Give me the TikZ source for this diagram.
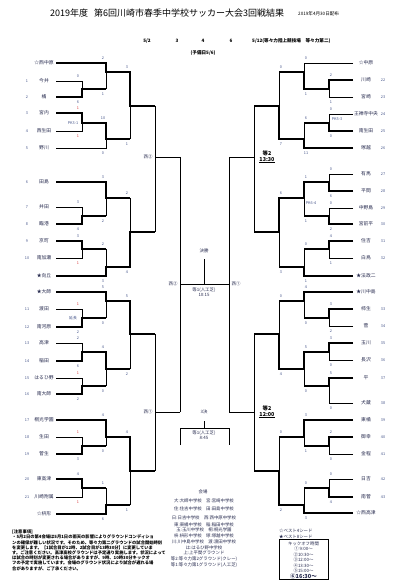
\documentclass[tikz,border=0pt]{standalone}
\usepackage{fontspec}
\setmainfont{Noto Sans CJK JP}
\usetikzlibrary{positioning}
\definecolor{ink}{HTML}{262A4E}
\definecolor{numc}{HTML}{44548A}
\definecolor{lose}{HTML}{D8383A}
\tikzset{
	ln/.style={line width=0.7pt},
	win/.style={line width=1.7pt},
	nm/.style={font=\fontsize{4.8}{5}\selectfont, text=ink, inner sep=0pt},
	no/.style={font=\fontsize{3.8}{4}\selectfont, text=numc, inner sep=0pt},
	sc/.style={font=\fontsize{3.8}{4}\selectfont, text=numc, inner sep=0pt},
	hd/.style={font=\bfseries\fontsize{4.6}{5}\selectfont, inner sep=0pt},
	vn/.style={font=\fontsize{4.4}{5}\selectfont, text=ink, inner sep=0pt},
	qf/.style={font=\bfseries\fontsize{5.4}{5.6}\selectfont, align=center, inner sep=0pt},
	note/.style={font=\bfseries\fontsize{4.3}{5}\selectfont, anchor=west, inner sep=0pt},
}

\begin{document}
\begin{tikzpicture}[x=1pt,y=-1pt]
	\fill[white] (0,0) rectangle (415,585);
	\useasboundingbox (0,0) rectangle (415,585);
	% title and dates
	\node[anchor=west, inner sep=0pt, font=\fontsize{9}{9}\selectfont] (title) at (50,13) {2019年度\hspace{6pt}第6回川崎市春季中学校サッカー大会3回戦結果};
	\node[anchor=west, inner sep=0pt, font=\fontsize{4.6}{5}\selectfont] (date) at (298,13.5) {2019年4月30日配布};
	\node[hd] (d2) at (147,41) {5/2};
	\node[hd] (d3) at (177,41) {3};
	\node[hd] (d4) at (203,41) {4};
	\node[hd] (d6) at (231,41) {6};
	\node[hd, anchor=west] (d12) at (252,41) {5/12(等々力陸上競技場　等々力第二)};
	\node[hd] (yobi) at (203,53) {(予備日5/6)};

	% teams
	\foreach \y/\n/\t in {81/1/今井, 97/2/橘, 113/3/宮内, 131/4/西生田, 148/5/野川, 182/6/田島, 207/7/井田, 224/8/臨港, 241/9/京町, 258/10/南加瀬, 309/11/渡田, 327/12/南河原, 343/13/高津, 361/14/稲田, 378/15/はるひ野, 394/16/南大師, 420/17/桐光学園, 437/18/生田, 454/19/菅生, 479/20/東高津, 497/21/川崎附属}
		{\node[nm] (L\n) at (44,\y) {\t}; \node[no] (LN\n) at (27,\y) {\n};}
	\foreach \y/\n/\t in {80/22/川崎, 97/23/宮崎, 114/24/王禅寺中央, 131/25/南生田, 148/26/塚越, 174/27/有馬, 191/28/平間, 208/29/中野島, 224/30/宮前平, 241/31/住吉, 258/32/白鳥, 309/33/柿生, 326/34/菅, 343/35/玉川, 360/36/長沢, 378/37/平, 403/38/犬蔵, 420/39/東橘, 437/40/御幸, 454/41/金程, 479/42/日吉, 497/43/南菅}
		{\node[nm] (R\n) at (366,\y) {\t}; \node[no] (RN\n) at (383,\y) {\n};}
	\node[nm] (Ls1) at (44,63) {☆西中原};
	\node[nm] (Ls2) at (44,276) {★向丘};
	\node[nm] (Ls3) at (44,292) {★大師};
	\node[nm] (Ls4) at (44,514) {☆枡形};
	\node[nm] (Rs1) at (366,63) {☆中原};
	\node[nm] (Rs2) at (366,276) {★法政二};
	\node[nm] (Rs3) at (366,292) {★川中島};
	\node[nm] (Rs4) at (366,513) {☆西高津};

	% left bracket
	\draw[win] (56,63)--(106,63)--(106,72)--(130,72)--(130,106)--(155,106);
	\draw[ln] (56,81)--(82,81)--(82,89);
	\draw[win] (56,97)--(82,97)--(82,89)--(106,89);
	\draw[ln] (106,89)--(106,72);
	\draw[win] (56,113)--(82,113)--(82,123)--(106,123)--(106,139)--(130,139);
	\draw[ln] (56,131)--(82,131)--(82,123);
	\draw[ln] (56,148)--(106,148)--(106,139);
	\draw[ln] (130,139)--(130,106);
	\draw[win] (56,182)--(106,182)--(106,198)--(130,198);
	\draw[ln] (130,198)--(130,232);
	\draw[ln] (56,207)--(82,207)--(82,216);
	\draw[win] (56,224)--(82,224)--(82,216)--(106,216);
	\draw[ln] (106,216)--(106,198);
	\draw[win] (56,241)--(82,241)--(82,249)--(106,249);
	\draw[ln] (56,258)--(82,258)--(82,249);
	\draw[ln] (106,249)--(106,267);
	\draw[win] (56,276)--(106,276)--(106,267)--(130,267)--(130,232)--(155,232);
	\draw[ln] (155,106)--(155,232);
	\draw[ln] (155,157)--(180,157);
	\draw[win] (56,292)--(106,292)--(106,301)--(130,301)--(130,334)--(155,334);
	\draw[ln] (56,309)--(82,309)--(82,318);
	\draw[win] (56,327)--(82,327)--(82,318)--(106,318);
	\draw[ln] (106,318)--(106,301);
	\draw[ln] (56,343)--(82,343)--(82,352);
	\draw[win] (56,361)--(82,361)--(82,352)--(106,352)--(106,369)--(130,369);
	\draw[ln] (56,378)--(82,378)--(82,386);
	\draw[win] (56,394)--(82,394)--(82,386)--(106,386);
	\draw[ln] (106,386)--(106,369);
	\draw[ln] (130,369)--(130,334);
	\draw[win] (56,420)--(106,420)--(106,437)--(130,437)--(130,471)--(155,471);
	\draw[ln] (56,437)--(82,437)--(82,446);
	\draw[win] (56,454)--(82,454)--(82,446)--(106,446);
	\draw[ln] (106,446)--(106,437);
	\draw[win] (56,479)--(82,479)--(82,488)--(106,488);
	\draw[ln] (56,497)--(82,497)--(82,488);
	\draw[ln] (106,488)--(106,505);
	\draw[win] (56,514)--(106,514)--(106,505)--(130,505);
	\draw[ln] (130,505)--(130,471);
	\draw[ln] (155,334)--(155,471);
	\draw[ln] (155,412)--(180,412);

	% right bracket
	\draw[ln] (353,63)--(304,63)--(304,72);
	\draw[win] (353,80)--(329,80)--(329,89)--(304,89)--(304,72)--(279,72);
	\draw[ln] (353,97)--(329,97)--(329,89);
	\draw[ln] (279,72)--(279,106);
	\draw[ln] (353,114)--(329,114)--(329,123);
	\draw[win] (353,131)--(329,131)--(329,123)--(304,123);
	\draw[ln] (304,123)--(304,139);
	\draw[win] (353,148)--(304,148)--(304,139)--(279,139)--(279,106)--(254,106);
	\draw[ln] (353,174)--(329,174)--(329,182);
	\draw[win] (353,191)--(329,191)--(329,182)--(304,182)--(304,198)--(279,198)--(279,232)--(254,232);
	\draw[ln] (353,208)--(329,208)--(329,216);
	\draw[win] (353,224)--(329,224)--(329,216)--(304,216);
	\draw[ln] (304,216)--(304,198);
	\draw[win] (353,241)--(329,241)--(329,249)--(304,249);
	\draw[ln] (353,258)--(329,258)--(329,249);
	\draw[ln] (304,249)--(304,267);
	\draw[win] (353,276)--(304,276)--(304,267)--(279,267);
	\draw[ln] (279,267)--(279,232);
	\draw[ln] (254,106)--(254,232);
	\draw[ln] (254,157)--(229,157);
	\draw[win] (353,292)--(304,292)--(304,301)--(279,301);
	\draw[ln] (279,301)--(279,334);
	\draw[win] (353,309)--(329,309)--(329,318)--(304,318);
	\draw[ln] (353,326)--(329,326)--(329,318);
	\draw[ln] (304,318)--(304,301);
	\draw[win] (353,343)--(329,343)--(329,352)--(304,352)--(304,369)--(279,369)--(279,334)--(254,334);
	\draw[ln] (353,360)--(329,360)--(329,352);
	\draw[win] (353,378)--(329,378)--(329,386)--(304,386);
	\draw[ln] (353,403)--(329,403)--(329,386);
	\draw[ln] (304,386)--(304,369);
	\draw[win] (353,420)--(304,420)--(304,437)--(279,437);
	\draw[ln] (279,437)--(279,471);
	\draw[win] (353,437)--(329,437)--(329,446)--(304,446);
	\draw[ln] (353,454)--(329,454)--(329,446);
	\draw[ln] (304,446)--(304,437);
	\draw[ln] (353,479)--(329,479)--(329,488);
	\draw[win] (353,497)--(329,497)--(329,488)--(304,488);
	\draw[ln] (304,488)--(304,505);
	\draw[win] (353,513)--(304,513)--(304,505)--(279,505)--(279,471)--(254,471);
	\draw[ln] (254,334)--(254,471);
	\draw[ln] (254,412)--(229,412);

	% scores
	\foreach \x/\a/\b/\p/\q in {78/81/97/0/6, 78/113/131/{\color{lose}1}/{\color{lose}1}, 78/207/224/3/4, 78/241/258/3/{\color{lose}1}, 78/309/327/{\color{lose}1}/2, 78/343/361/2/6, 78/378/394/{\color{lose}1}/2, 78/437/454/{\color{lose}1}/3, 78/479/497/4/{\color{lose}1},
		103/63/89/2/1, 103/123/148/10/0, 103/182/216/3/2, 103/249/276/2/3, 103/292/318/5/0, 103/352/386/4/0, 103/420/446/4/0, 103/488/514/1/6,
		127/72/139/3/1, 127/198/267/2/4, 127/301/369/5/2, 127/437/505/4/1,
		331/80/97/2/1, 331/114/131/0/0, 331/174/191/0/6, 331/208/224/0/2, 331/241/258/4/1, 331/309/326/3/2, 331/343/360/3/0, 331/378/403/5/0, 331/437/454/2/0, 331/479/497/0/4,
		306/63/89/0/1, 306/123/148/6/11, 306/182/216/1/1, 306/249/276/0/1, 306/292/318/4/0, 306/352/386/5/0, 306/420/446/3/1, 306/488/513/0/3,
		281/72/139/0/7, 281/198/267/6/3, 281/301/369/0/4, 281/437/505/0/2}
		{\node[sc] (t\x-\a) at (\x,\a-4.5) {\p}; \node[sc] (b\x-\b) at (\x,\b+5) {\q};}
	\node[sc] (pk1) at (73,123) {PK3-1};
	\node[sc] (ot1) at (73,318) {延長};
	\node[sc] (pk2) at (337,119) {PK5-3};
	\node[sc] (pk3) at (311,203) {PK6-4};

	% semifinals, final, 3rd place
	\node[vn] (w2a) at (148,157) {西②};
	\node[vn] (w1a) at (148,412) {西①};
	\node[qf] (t2a) at (267,157) {等2\\\underline{13:30}};
	\node[qf] (t2b) at (267,412) {等2\\\underline{12:00}};
	\draw[ln] (180,157)--(180,412);
	\draw[ln] (229,157)--(229,412);
	\draw[ln] (180,284)--(229,284);
	\node[vn] (fin) at (204,251) {決勝};
	\draw[ln] (204,284)--(204,259);
	\node[vn] (w2b) at (173,284) {西②};
	\node[vn] (w1b) at (236,284) {西①};
	\node[vn] (fv1) at (204,290) {等1(人工芝)};
	\node[vn, below=0.6pt of fv1] (fv2) {10:15};
	\node[vn] (thd) at (204,412) {3決};
	\draw[ln] (180,445)--(180,428)--(229,428)--(229,445);
	\draw[ln] (204,428)--(204,421);
	\node[vn] (tv1) at (204,433.5) {等1(人工芝)};
	\node[vn, below=0.6pt of tv1] (tv2) {8:45};

	% venues
	\node[vn] (kaijo) at (203,492) {会場};
	\foreach \y/\t in {501/大:大師中学校　宮:宮崎中学校, 509/住:住吉中学校　田:田島中学校, 518/日:日吉中学校　西:西中原中学校, 525/東:東橘中学校　稲:稲田中学校, 529.5/玉:玉川中学校　桐:桐光学園, 536/枡:枡形中学校　塚:塚越中学校, 542/川:川中島中学校　渡:渡田中学校, 548/は:はるひ野中学校, 552.5/上:上平間グラウンド, 559/等2:等々力第2グラウンド(クレー), 565/等1:等々力第1グラウンド(人工芝)}
		{\node[vn] (v\y) at (204,\y) {\t};}

	% notes
	\node[note] (nt0) at (12,532) {[注意事項]};
	\foreach \t [count=\i] in {・5月2日の第4会場は5月1日の雨天の影響によりグラウンドコンディショ, ンの確保が難しい状況です。そのため、等々力第二グラウンドの試合開始時刻, を変更します。【1試合目が12時、2試合目が13時30分】に変更していま, す。ご注意ください。高津高校グラウンドは予定通り実施します。状況によって, は試合の時刻が変更される場合がありますが、9時、10時30分キックオ, フの予定で実施しています。会場のグラウンド状況により試合が遅れる場, 合がありますが、ご了承ください。}
		{\node[note] (nt\i) at (12,532+5.2*\i) {\t};}

	% seeds and kick-off times
	\node[vn, anchor=west] (s4) at (279,531) {☆ベスト4シード};
	\node[vn, anchor=west] (s8) at (279,537) {★ベスト8シード};
	\node[draw, line width=0.8pt, minimum width=49pt, minimum height=40pt, inner sep=0pt] (kbox) at (303.5,559) {};
	\foreach \t [count=\i] in {キックオフ時間, ①\ 9:00～, ②10:30～, ③12:00～, ④13:30～, ⑤15:00～}
		{\node[vn] (k\i) at (303.5,538+5.5*\i) {\t};}
	\node[vn, font=\bfseries\fontsize{5.6}{6}\selectfont] (k7) at (303.5,576.5) {⑥16:30～};
\end{tikzpicture}
\end{document}
